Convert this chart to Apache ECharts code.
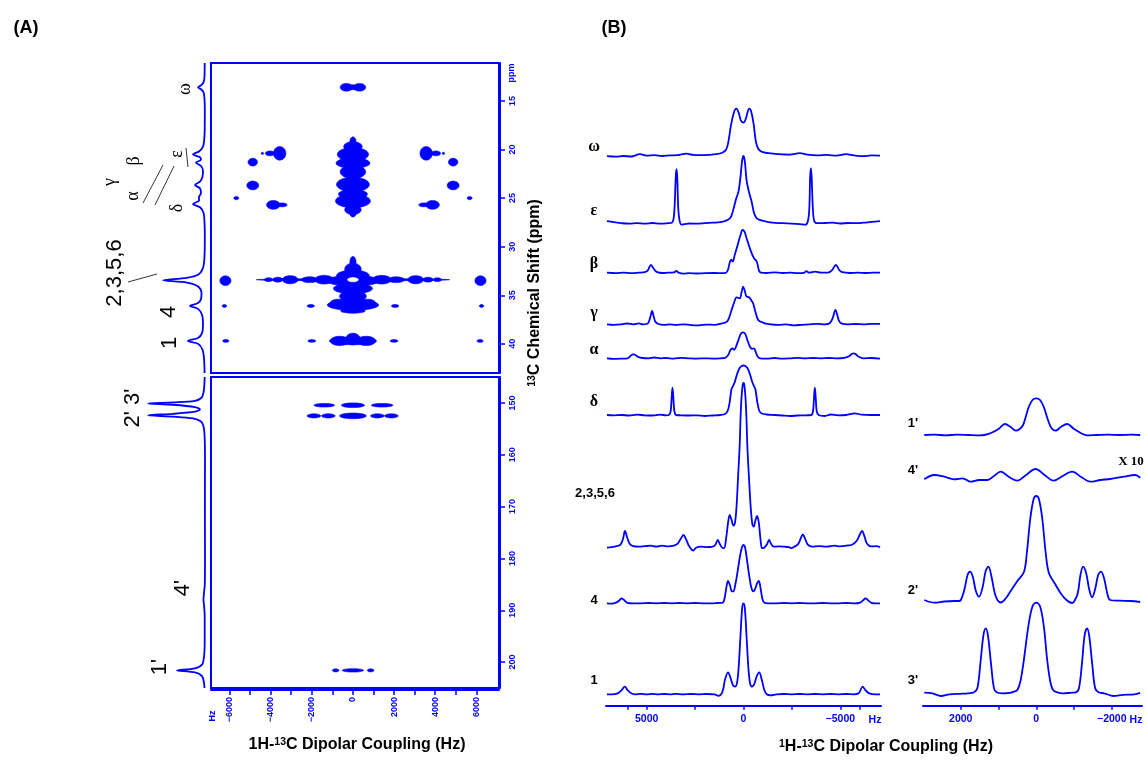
<!DOCTYPE html>
<html><head><meta charset="utf-8">
<script src="https://cdn.jsdelivr.net/npm/echarts@6/dist/echarts.min.js"></script>
<style>html,body{margin:0;padding:0;background:#fff}#c{width:1146px;height:762px}</style>
</head><body><div id="c"></div><script>
// ---------------- DATA ----------------
// tick labels
const ppmTicksTop=[15,20,25,30,35,40];
const ppmTicksBottom=[150,160,170,180,190,200];
const hzTicksA=[-6000,-4000,-2000,0,2000,4000,6000];
const hzMinorA=[-6000,-5000,-4000,-3000,-2000,-1000,0,1000,2000,3000,4000,5000,6000];
const hzTicksBL=[5000,0,-5000];
const hzMinorBL=[6000,5000,2500,0,-2500,-5000,-6000];
const hzTicksBR=[2000,0,-2000];
const hzMinorBR=[2000,1000,0,-1000,-2000];

// 2D contour blobs: [Hz, ppm, half-width Hz, half-height ppm]
const blobsAliphatic=[
 [-320,13.6,300,0.4],[320,13.6,300,0.4],[0,13.6,500,0.25],
 [0,19.2,150,0.5],[0,19.7,450,0.5],[0,20.5,760,0.7],[0,21.4,820,0.55],[0,22.3,620,0.7],[0,23.6,800,0.75],[0,24.6,700,0.5],[0,25.3,850,0.7],[0,26.2,400,0.5],[0,26.6,150,0.35],
 [-3560,20.4,300,0.7],[3560,20.4,300,0.7],[-4030,20.4,230,0.25],[4030,20.4,230,0.25],[-4400,20.4,60,0.12],[4400,20.4,60,0.12],
 [-4870,21.3,230,0.4],[4870,21.3,230,0.4],
 [-4870,23.7,290,0.45],[4870,23.7,290,0.45],
 [-5670,25.0,120,0.17],[5670,25.0,120,0.17],
 [-3870,25.7,330,0.45],[3870,25.7,330,0.45],[-3450,25.7,250,0.2],[3450,25.7,250,0.2],
 [0,33.4,4700,0.12],[-4100,33.4,200,0.2],[4100,33.4,200,0.2],[-3650,33.4,250,0.25],[3650,33.4,250,0.25],
 [-3050,33.4,380,0.42],[3050,33.4,380,0.42],[-2100,33.4,400,0.3],[2100,33.4,400,0.3],[-1400,33.4,450,0.45],[1400,33.4,450,0.45],
 [0,31.6,150,0.6],[0,32.3,400,0.6],[0,33.0,800,0.6],[0,33.5,1300,0.55],[0,34.3,950,0.55],[0,35.1,650,0.6],[0,36.0,1250,0.55],[-700,35.8,400,0.4],[700,35.8,400,0.4],[0,36.6,600,0.25],
 [-6200,33.5,270,0.5],[6200,33.5,270,0.5],
 [-2050,36.1,180,0.15],[2050,36.1,180,0.15],[-6250,36.1,110,0.15],[6250,36.1,110,0.15],
 [0,39.7,1150,0.4],[-650,39.7,450,0.48],[650,39.7,450,0.48],[0,39.5,350,0.6],
 [-2000,39.7,190,0.14],[2000,39.7,190,0.14],[-6180,39.7,150,0.15],[6180,39.7,150,0.15]
];
const blobHoles=[[0,33.4,260,0.22]];
const blobsAromatic=[
 [0,150.45,560,0.45],[-1395,150.45,500,0.35],[1420,150.45,525,0.35],
 [0,152.5,650,0.55],[-1897,152.5,330,0.4],[-1197,152.5,330,0.4],[1187,152.5,330,0.4],[1868,152.5,330,0.4],
 [0,201.6,520,0.33],[-840,201.6,160,0.3],[860,201.6,160,0.3]
];

// 1D projection of panel A: [ppm, intensity]
const projAliphatic=[[11.1,0.3],[12.5,0.5],[13.1,1.5],[13.4,4],[13.6,7],[13.8,4],[14.1,1.5],[14.8,0.5],[16,0.2],[18,0.3],[19,0.8],[19.7,2],
 [20.2,6],[20.5,12],[20.8,5],[21.05,4],[21.35,9],[21.7,4],[22.2,2],[22.8,2.5],[23.3,5],[23.65,10],[24.0,5],[24.5,4],[24.9,6],[25.25,6],[25.6,12],[25.95,5],[26.5,1.5],[27.5,0.5],
 [29,0.2],[31,0.5],[32.2,2],[32.9,7],[33.2,18],[33.45,42],[33.7,18],[34.1,7],[34.8,3.5],[35.4,4],[35.8,7],[36.1,15],[36.4,7],[37,3],[38,2],[38.9,3],[39.4,7],[39.7,17],[40.0,7],[40.6,2.5],[41.5,1],[43,0.4]];
const projAromatic=[[145,0.3],[147,0.8],[148,1.5],[149,3.5],[149.6,10],[149.9,32],[150.1,57],[150.35,32],[150.8,10],[151.25,5],[151.7,10],[152.1,32],[152.4,57],[152.65,32],[153.0,12],[153.6,4],[154.5,1.5],[156,0.5],[160,0],[170,0.1],[180,0],[185,0.2],[187,1.2],[188,1.5],[189,1],[191,0.3],[196,0.3],[199,1],[200.5,3],[201.2,10],[201.6,28],[202.0,10],[202.7,3],[204,1],[205,0.5]];

// Panel B traces: [Hz, intensity]
const traceOmega=[[7050,-0.5],[6600,-1],[6200,-0.3],[5800,-0.8],[5350,1.5],[5000,0],[4600,0.5],[4200,-0.3],[3800,0.3],[3400,0.5],[2950,2],[2600,0.8],[2200,0.5],[1800,0.8],[1400,1.5],[1100,3],[900,6],[780,14],[650,30],[500,43],[370,47],[250,43],[130,35],[0,33],[-120,37],[-230,45],[-300,47],[-400,44],[-520,32],[-640,14],[-760,7],[-930,4],[-1300,2.5],[-1800,1.5],[-2400,1],[-2900,2.5],[-3300,1],[-3800,0.3],[-4300,0.8],[-4800,0],[-5300,1.5],[-5700,0.3],[-6200,-0.5],[-6600,0.3],[-7050,0]];
const traceEpsilon=[[7050,1.5],[6700,0.5],[6300,-0.5],[5900,-1],[5500,-0.5],[5100,-1],[4700,-0.3],[4300,-1],[3900,-0.5],[3700,0],[3620,3],[3560,15],[3500,45],[3460,53.5],[3420,45],[3370,15],[3300,2],[3200,-2],[3050,-1.5],[2800,-0.8],[2400,-1],[2000,-0.5],[1600,0],[1200,0.5],[900,2],[720,4],[620,7],[500,15],[380,24],[260,31],[160,45],[70,62],[0,66.7],[-70,61],[-160,42],[-280,31],[-420,21],[-540,10],[-660,5],[-800,3],[-1100,1.5],[-1500,0],[-2000,-0.5],[-2500,-1],[-2900,-1.5],[-3200,-2],[-3330,2],[-3400,15],[-3440,45],[-3480,54.5],[-3520,45],[-3580,15],[-3650,2],[-3800,-0.5],[-4200,-0.3],[-4600,0],[-5000,-0.8],[-5400,-0.3],[-5800,-0.5],[-6200,0],[-6600,0.8],[-7050,1.5]];
const traceBeta=[[7050,0],[6600,-0.5],[6200,0],[5800,-0.5],[5400,0],[5100,0.5],[4950,2],[4850,6],[4780,7.7],[4700,6],[4600,3],[4450,0.5],[4200,-0.3],[3900,0],[3600,0.3],[3460,1.7],[3350,0],[3100,-1],[2800,-0.5],[2400,-0.8],[2000,-0.5],[1500,-0.3],[1100,-0.5],[900,0],[800,3],[700,11],[630,13],[560,11],[450,18],[300,28],[150,38],[50,42.7],[-50,41],[-150,35],[-300,26],[-450,18],[-560,14],[-640,12.5],[-720,9],[-800,2],[-900,0],[-1200,-0.3],[-1600,0.3],[-2000,-0.3],[-2400,0],[-2800,-0.5],[-3100,-0.3],[-3250,1.5],[-3400,0],[-3700,1],[-4000,0],[-4350,0],[-4550,2],[-4700,6.5],[-4770,7.7],[-4850,6],[-4950,2.5],[-5100,0.5],[-5500,-0.3],[-5900,0],[-6300,-0.3],[-6700,0],[-7050,0]];
const traceGamma=[[7050,0],[6700,-0.5],[6300,0],[6000,0.8],[5700,0],[5400,1],[5200,0],[5000,0.3],[4900,2],[4800,8],[4720,13.3],[4640,8],[4550,2.5],[4400,0.3],[4100,-0.5],[3800,0],[3500,-0.5],[3100,0],[2700,-0.8],[2300,-1],[1900,-0.3],[1500,-0.5],[1100,1],[900,2],[794,4.3],[700,9],[620,14],[480,22],[362,27],[280,26.5],[191,26],[100,32],[17,37.7],[-70,33],[-155,27.7],[-292,27],[-400,24],[-496,21],[-620,12],[-757,4.3],[-900,2.5],[-1100,1],[-1400,0],[-1800,-0.5],[-2200,0],[-2600,-1],[-3000,-0.5],[-3400,0],[-3800,0.5],[-4200,0],[-4450,1],[-4600,6],[-4700,12.5],[-4750,14.3],[-4820,11],[-4920,4],[-5050,1],[-5400,0],[-5800,0.3],[-6200,0],[-6600,0.5],[-7050,0.5]];
const traceAlpha=[[7050,0],[6700,-0.5],[6300,-0.3],[6000,0],[5850,2],[5700,4],[5600,3.5],[5450,1.5],[5200,0.3],[4900,0],[4600,0.8],[4300,0],[4000,0.3],[3600,-0.3],[3200,0.5],[2800,0],[2400,-0.3],[2000,0],[1600,-0.3],[1200,0],[950,0.5],[800,3],[680,8],[570,10],[480,8.5],[380,12],[250,19],[120,25],[0,26],[-100,24],[-220,17],[-350,11],[-450,9.5],[-540,10],[-620,7],[-720,2],[-850,0],[-1200,-0.3],[-1600,0.3],[-2000,-0.3],[-2400,0],[-2800,0.5],[-3200,0],[-3600,0.3],[-4000,0],[-4400,0.3],[-4800,0],[-5200,0.5],[-5450,2],[-5600,4.5],[-5700,5],[-5800,4],[-5950,1.5],[-6200,0],[-6600,0.3],[-7050,-0.3]];
const traceDelta=[[7050,0],[6700,-0.3],[6300,0],[5900,-0.5],[5500,0.3],[5100,-0.3],[4700,-0.5],[4300,0.3],[4000,-0.3],[3850,0],[3760,4],[3710,17],[3667,27.3],[3620,17],[3570,4],[3480,0],[3200,-0.3],[2800,-0.5],[2400,-0.3],[2000,-1],[1600,-0.5],[1200,0],[950,1],[820,4],[720,12],[620,26],[540,29],[450,33],[330,41],[200,47],[90,49],[0,49.5],[-90,49],[-200,47],[-330,41],[-450,33],[-540,29],[-620,25],[-720,12],[-820,4],[-950,1.5],[-1200,0.5],[-1600,0],[-2000,-0.5],[-2400,-1],[-2800,-0.5],[-3200,-0.3],[-3500,0],[-3590,4],[-3640,17],[-3683,27.3],[-3730,17],[-3780,4],[-3880,0],[-4200,-1],[-4500,0.5],[-4900,-0.3],[-5300,0],[-5750,1.7],[-6100,0.3],[-6600,0],[-7050,0]];
const trace2356=[[7050,-1],[6800,-0.5],[6550,0.5],[6350,2],[6220,8],[6120,15.7],[6020,10],[5880,3],[5700,0.5],[5400,0],[5100,0.5],[4800,1],[4500,0],[4200,1],[3900,0.3],[3600,1],[3400,3],[3240,8],[3100,11.7],[2980,8],[2850,2],[2720,-2],[2600,-4],[2450,-1],[2200,0],[1900,-0.5],[1600,0],[1450,2],[1330,6.7],[1230,3],[1100,-1],[1000,-1.5],[900,8],[790,25],[710,31.7],[620,27],[520,21],[440,24],[360,40],[280,70],[200,100],[150,130],[100,150],[40,162],[0,163.7],[-40,162],[-100,150],[-150,130],[-200,100],[-280,70],[-370,40],[-460,22],[-530,20],[-610,26],[-700,30.7],[-790,24],[-880,7],[-960,-1.5],[-1060,-1],[-1200,2],[-1320,6.7],[-1420,3],[-1560,0],[-1800,0.3],[-2100,0],[-2350,-0.5],[-2480,-1.5],[-2620,0],[-2800,2],[-2930,7],[-3060,12.3],[-3180,8],[-3320,2],[-3550,0],[-3900,0.5],[-4300,0],[-4700,1],[-5000,0.3],[-5300,1],[-5600,2],[-5850,6],[-6000,12],[-6120,15.7],[-6250,10],[-6380,3],[-6600,0.3],[-6850,0.5],[-7050,-0.5]];
const trace4=[[7050,0],[6800,-0.3],[6550,1],[6400,3],[6300,5],[6180,3.5],[6000,0.5],[5700,0],[5300,0],[4900,0.3],[4500,0],[4100,0.3],[3700,0],[3300,0.3],[2900,0],[2500,0.3],[2100,0],[1700,0],[1300,0.3],[1100,0.5],[1000,3],[900,14],[800,22.3],[700,18],[600,12],[520,12],[430,18],[320,30],[200,45],[80,56],[0,58.3],[-80,56],[-190,42],[-300,27],[-400,16],[-500,12],[-590,14],[-700,20],[-790,22.3],[-880,15],[-980,4],[-1080,0.5],[-1300,0],[-1700,0],[-2100,0.3],[-2500,0],[-2900,0.3],[-3300,0],[-3700,0],[-4100,0.3],[-4500,0],[-4900,0],[-5300,0.3],[-5700,0],[-6000,0.5],[-6180,3],[-6300,5],[-6430,3],[-6600,0.5],[-6800,0],[-7050,0]];
const trace1=[[7050,0],[6800,0],[6500,1],[6300,4],[6130,7.7],[5980,4],[5800,1],[5600,0],[5300,0.5],[5000,0],[4700,0.5],[4400,0],[4100,0.3],[3800,0],[3500,0.5],[3100,0],[2700,0.3],[2300,0],[1900,0.3],[1500,0],[1300,-1.5],[1150,0],[1050,5],[950,15],[800,22],[680,17],[540,9],[430,7.7],[330,12],[250,27],[160,57],[70,86],[0,91],[-70,86],[-160,57],[-250,27],[-330,12],[-430,7.7],[-550,10],[-680,18],[-810,22],[-950,14],[-1080,4],[-1200,0],[-1400,-1],[-1700,0],[-2100,0.3],[-2500,0],[-2900,0.3],[-3300,0],[-3700,0.3],[-4100,0],[-4500,0.3],[-4900,0],[-5300,0.3],[-5700,0],[-5950,1],[-6150,7.7],[-6300,4],[-6500,1],[-6800,0],[-7050,0]];
const trace1p=[[2966,0],[2700,0.3],[2400,-0.3],[2100,0.3],[1800,0],[1500,-0.3],[1380,0],[1200,2],[1000,6],[830,11],[680,8],[545,4.3],[440,6],[350,10],[280,18],[200,28],[100,35],[0,36.7],[-100,35],[-200,28],[-300,16],[-400,7],[-510,4.3],[-650,8],[-818,11],[-1000,6],[-1200,1.5],[-1345,-0.3],[-1600,0],[-1900,0.3],[-2200,0],[-2500,0.3],[-2752,0]];
const trace4p=[[2966,0.7],[2702,5],[2438,3.3],[2174,0.7],[1953,1.7],[1734,-1.7],[1514,0],[1293,0],[1120,4],[942,8.3],[720,3],[501,-0.7],[270,5],[18,11],[-220,5],[-464,-0.7],[-700,4],[-950,8.3],[-1190,3],[-1433,-1.7],[-1697,0],[-1960,1],[-2311,3.3],[-2620,5],[-2752,2.3]];
const trace2p=[[2966,1],[2700,-1.7],[2438,-0.5],[2174,0],[2050,0],[1997,1],[1900,12],[1820,26],[1752,29.3],[1680,24],[1600,10],[1514,4.3],[1420,14],[1340,30],[1267,34.3],[1190,25],[1100,8],[1029,1],[942,-1.5],[800,3],[678,10],[500,20],[327,29],[250,48],[160,82],[70,102],[0,105],[-70,102],[-160,82],[-250,48],[-334,28],[-500,17],[-641,8],[-800,1],[-950,-2],[-1011,0],[-1100,8],[-1170,26],[-1240,34.3],[-1320,28],[-1400,12],[-1478,3.7],[-1560,12],[-1640,26],[-1715,29.3],[-1800,22],[-1890,6],[-1960,1],[-2200,0.3],[-2500,0],[-2752,-1]];
const trace3p=[[2966,0.7],[2750,0],[2525,-2.7],[2300,-1],[2000,-0.5],[1800,0],[1650,1],[1560,5],[1480,30],[1400,58],[1338,65],[1280,58],[1200,30],[1120,5],[1050,1],[900,0],[700,0.5],[600,1.5],[500,3.3],[420,12],[330,33],[210,67],[100,87],[0,90.7],[-100,87],[-200,67],[-290,33],[-380,10],[-450,3],[-560,1],[-700,0],[-900,0.5],[-1050,1],[-1130,5],[-1210,30],[-1280,58],[-1345,65],[-1400,58],[-1480,30],[-1560,5],[-1650,1],[-1800,0],[-2047,-2.7],[-2300,-1.5],[-2600,-1],[-2752,0.5]];

const traceLabels=['ω','ε','β','γ','α','δ','2,3,5,6','4','1',"1'","4'","2'","3'"];

// ---------------- LAYOUT ----------------
const BLUE='#0000ff';
const SANS='"Liberation Sans", Arial, sans-serif';
const SERIF='"Liberation Serif", "Times New Roman", serif';
const traceLayout=[
 {d:traceOmega,col:0,base:155.7,lx:594,ly:147,serif:true},
 {d:traceEpsilon,col:0,base:222.7,lx:594,ly:211,serif:true},
 {d:traceBeta,col:0,base:272.7,lx:594,ly:264,serif:true},
 {d:traceGamma,col:0,base:324.3,lx:594,ly:313,serif:true},
 {d:traceAlpha,col:0,base:358.3,lx:594,ly:350,serif:true},
 {d:traceDelta,col:0,base:415,lx:594,ly:402,serif:true},
 {d:trace2356,col:0,base:546.7,lx:595,ly:493},
 {d:trace4,col:0,base:603.3,lx:594,ly:600},
 {d:trace1,col:0,base:694.3,lx:594,ly:680},
 {d:trace1p,col:1,base:435,lx:913,ly:423},
 {d:trace4p,col:1,base:480,lx:913,ly:470},
 {d:trace2p,col:1,base:601,lx:913,ly:590},
 {d:trace3p,col:1,base:693.3,lx:913,ly:680}
];
const cols=[{left:606,width:275,min:-7100,max:7100},{left:923,width:219,min:-2800,max:3000}];
const minus=v=>v<0?'\u2212'+(-v):String(v);

const grids=[],xAxes=[],yAxes=[],series=[];
function addGrid(g){grids.push(Object.assign({show:false,outerBoundsMode:'none',containLabel:false},g));return grids.length-1;}

// panel A main grids
const gTop=addGrid({left:211,top:63,width:288,height:310,show:true,borderColor:BLUE,borderWidth:2,backgroundColor:'transparent'});
const gBot=addGrid({left:211,top:377,width:288,height:311,show:true,borderColor:BLUE,borderWidth:2,backgroundColor:'transparent'});
const axLbl={color:BLUE,fontWeight:'bold',fontSize:9,fontFamily:SANS};
xAxes.push({gridIndex:gTop,type:'value',min:-6900,max:7100,show:false});
yAxes.push({gridIndex:gTop,type:'value',position:'right',inverse:true,min:11.1,max:43,offset:1,
 axisLine:{show:true,onZero:false,lineStyle:{color:BLUE,width:2}},axisTick:{show:true,customValues:ppmTicksTop,length:5,lineStyle:{color:BLUE,width:1.5}},
 axisLabel:Object.assign({customValues:ppmTicksTop,rotate:90,margin:8},axLbl),splitLine:{show:false}});
xAxes.push({gridIndex:gBot,type:'value',min:-6900,max:7100,offset:2,
 axisLine:{show:true,onZero:false,lineStyle:{color:BLUE,width:2}},axisTick:{show:true,customValues:hzMinorA,length:5,lineStyle:{color:BLUE,width:1.5}},
 axisLabel:Object.assign({customValues:hzTicksA,rotate:90,margin:7,formatter:minus},axLbl),splitLine:{show:false}});
yAxes.push({gridIndex:gBot,type:'value',position:'right',inverse:true,min:145,max:205,offset:1,
 axisLine:{show:true,onZero:false,lineStyle:{color:BLUE,width:2}},axisTick:{show:true,customValues:ppmTicksBottom,length:5,lineStyle:{color:BLUE,width:1.5}},
 axisLabel:Object.assign({customValues:ppmTicksBottom,rotate:90,margin:8},axLbl),splitLine:{show:false}});
// projection grids
const PB=205, PS=75;
const gPT=addGrid({left:PB-PS,top:63,width:PS+3,height:310});
const gPB=addGrid({left:PB-PS,top:377,width:PS+3,height:311});
xAxes.push({gridIndex:gPT,type:'value',inverse:true,min:-3,max:PS,show:false});
yAxes.push({gridIndex:gPT,type:'value',inverse:true,min:11.1,max:43,show:false});
xAxes.push({gridIndex:gPB,type:'value',inverse:true,min:-3,max:PS,show:false});
yAxes.push({gridIndex:gPB,type:'value',inverse:true,min:145,max:205,show:false});

function blobRender(fill){
 return function(params,api){
  const c=api.coord([api.value(0),api.value(1)]);
  const s=api.size([api.value(2),api.value(3)]);
  const pts=[];
  for(let k=0;k<32;k++){const t=k/32*Math.PI*2;pts.push([c[0]+s[0]*Math.cos(t),c[1]+s[1]*Math.sin(t)]);}
  return {type:'polygon',shape:{points:pts},style:{fill:fill,stroke:fill,lineWidth:0.6}};
 };
}
series.push({type:'custom',xAxisIndex:0,yAxisIndex:0,data:blobsAliphatic,renderItem:blobRender(BLUE),silent:true,clip:true});
series.push({type:'custom',xAxisIndex:0,yAxisIndex:0,data:blobHoles,renderItem:blobRender('#ffffff'),silent:true,z:3});
series.push({type:'custom',xAxisIndex:1,yAxisIndex:1,data:blobsAromatic,renderItem:blobRender(BLUE),silent:true,clip:true});
const lineBase={type:'line',showSymbol:false,symbol:'none',silent:true,smooth:0.3,lineStyle:{color:BLUE,width:1.8},itemStyle:{color:BLUE}};
series.push(Object.assign({},lineBase,{xAxisIndex:2,yAxisIndex:2,data:projAliphatic.map(p=>[p[1],p[0]])}));
series.push(Object.assign({},lineBase,{xAxisIndex:3,yAxisIndex:3,data:projAromatic.map(p=>[p[1],p[0]])}));

// panel B traces
traceLayout.forEach((t,i)=>{
 const c=cols[t.col];
 const mx=Math.ceil(Math.max.apply(null,t.d.map(p=>p[1])))+3;
 const g=addGrid({left:c.left,width:c.width,top:t.base-mx,height:mx+6});
 xAxes.push({gridIndex:g,type:'value',min:c.min,max:c.max,inverse:true,show:false});
 yAxes.push({gridIndex:g,type:'value',min:-6,max:mx,show:false});
 series.push(Object.assign({},lineBase,{xAxisIndex:xAxes.length-1,yAxisIndex:yAxes.length-1,data:t.d,smooth:0.35}));
});
// panel B axes
const bAxisY=705.7;
[[0,hzTicksBL,hzMinorBL],[1,hzTicksBR,hzMinorBR]].forEach(([ci,lab,tk])=>{
 const c=cols[ci];
 const g=addGrid({left:c.left,width:c.width,top:bAxisY-40,height:40});
 xAxes.push({gridIndex:g,type:'value',min:c.min,max:c.max,inverse:true,
  axisLine:{show:true,onZero:false,lineStyle:{color:BLUE,width:2}},axisTick:{show:true,customValues:tk,length:4,lineStyle:{color:BLUE,width:1.5}},
  axisLabel:{customValues:lab,color:BLUE,fontWeight:'bold',fontSize:10.5,fontFamily:SANS,margin:8,formatter:minus},splitLine:{show:false}});
 yAxes.push({gridIndex:g,type:'value',min:0,max:1,show:false});
});

// ---------------- TEXT ----------------
const R=Math.PI/2;
function txt(x,y,text,font,opts){return Object.assign({type:'text',x:x,y:y,silent:true,style:{text:text,font:font,fill:'#000',align:'center',verticalAlign:'middle',textAlign:'center',textVerticalAlign:'middle'}},opts||{});}
const graphic=[];
graphic.push(txt(26,28,'(A)','bold 18px '+SANS));
graphic.push(txt(614,28,'(B)','bold 18px '+SANS));
// panel A projection labels (rotated)
const aLab=[['ω',185,89,SERIF,18],['ε',177,154,SERIF,18],['β',134,161,SERIF,18],['γ',110,182,SERIF,18],['α',133,196,SERIF,18],['δ',177,208,SERIF,18],
 ['2,3,5,6',115,273,SANS,22],['4',169,312,SANS,22],['1',170,343,SANS,22],["2' 3'",133,408,SANS,22],["4'",183,588,SANS,22],["1'",160,667,SANS,22]];
aLab.forEach(a=>graphic.push(txt(a[1],a[2],a[0],a[4]+'px '+a[3],{rotation:R})));
const aLines=[[[128,282],[157,274]],[[186,148],[188,167]],[[143,203],[163,165]],[[155,205],[174,166]]];
aLines.forEach(l=>graphic.push({type:'line',silent:true,shape:{x1:l[0][0],y1:l[0][1],x2:l[1][0],y2:l[1][1]},style:{stroke:'#000',lineWidth:0.8}}));
graphic.push(txt(512,73,'ppm','bold 9px '+SANS,{rotation:R,style:{text:'ppm',font:'bold 9px '+SANS,fill:BLUE,align:'center',verticalAlign:'middle'}}));
graphic.push(txt(213,716,'Hz','bold 9px '+SANS,{rotation:R,style:{text:'Hz',font:'bold 9px '+SANS,fill:BLUE,align:'center',verticalAlign:'middle'}}));
// axis titles with superscripts
const rich={n:{fontSize:16,fontWeight:'bold',fontFamily:SANS,fill:'#000',color:'#000',verticalAlign:'top',lineHeight:19},s:{fontSize:10.5,fontWeight:'bold',fontFamily:SANS,fill:'#000',color:'#000',verticalAlign:'top',lineHeight:10}};
graphic.push({type:'text',x:357,y:746,silent:true,style:{text:'{n|1H-}{s|13}{n|C Dipolar Coupling (Hz)}',rich:rich,align:'center',verticalAlign:'middle'}});
graphic.push({type:'text',x:886,y:748,silent:true,style:{text:'{s|1}{n|H-}{s|13}{n|C Dipolar Coupling (Hz)}',rich:rich,align:'center',verticalAlign:'middle'}});
const rich2={n:{fontSize:16,fontWeight:'bold',fontFamily:SANS,fill:'#000',verticalAlign:'top',lineHeight:19},s:{fontSize:10.5,fontWeight:'bold',fontFamily:SANS,fill:'#000',verticalAlign:'top',lineHeight:10}};
graphic.push({type:'text',x:536,y:293,rotation:R,silent:true,style:{text:'{s|13}{n|C Chemical Shift (ppm)}',rich:rich2,align:'center',verticalAlign:'middle'}});
// panel B trace labels
traceLayout.forEach((t,i)=>{
 graphic.push(txt(t.lx,t.ly,traceLabels[i],t.serif?('bold 16px '+SERIF):('bold 13px '+SANS)));
});
graphic.push(txt(1131,462,'X 10','bold 13px '+SERIF));
graphic.push({type:'text',x:875,y:720,silent:true,style:{text:'Hz',font:'bold 10.5px '+SANS,fill:BLUE,align:'center',verticalAlign:'middle'}});
graphic.push({type:'text',x:1136,y:720,silent:true,style:{text:'Hz',font:'bold 10.5px '+SANS,fill:BLUE,align:'center',verticalAlign:'middle'}});

const chart=echarts.init(document.getElementById('c'),null,{renderer:'canvas'});
chart.setOption({animation:false,backgroundColor:'#fff',grid:grids,xAxis:xAxes,yAxis:yAxes,series:series,graphic:graphic});
</script></body></html>
